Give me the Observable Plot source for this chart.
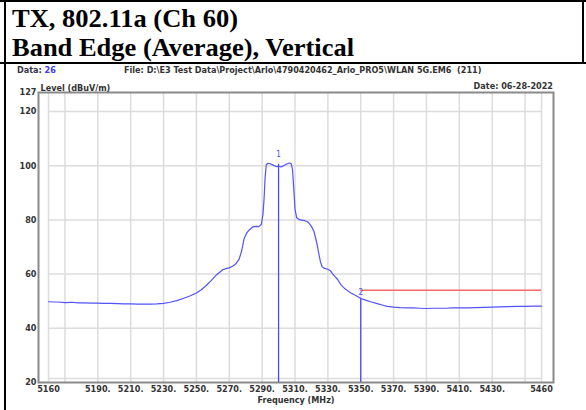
<!DOCTYPE html>
<html><head><meta charset="utf-8">
<script src="https://cdn.jsdelivr.net/npm/d3@7"></script>
<script src="https://cdn.jsdelivr.net/npm/@observablehq/plot@0.6"></script>
<style>
body{margin:0;width:586px;height:410px;position:relative;overflow:hidden;background:#fff;}
#title{position:absolute;left:0;top:0;}
#title text{font-family:"Liberation Serif","Times New Roman",serif;font-weight:bold;font-size:26px;fill:#000;}
.bl{position:absolute;background:#000;}
.hdr{position:absolute;font-family:"Liberation Sans Narrow","DejaVu Sans Condensed",sans-serif;font-size:9px;font-weight:bold;color:#333;white-space:pre;line-height:10px;}
#chart{position:absolute;left:0;top:63px;}
</style></head><body>
<svg id="title" width="586" height="62">
  <text x="12" y="27" textLength="226" lengthAdjust="spacingAndGlyphs">TX, 802.11a (Ch 60)</text>
  <text x="12" y="56" textLength="342" lengthAdjust="spacingAndGlyphs">Band Edge (Average), Vertical</text>
</svg>
<div class="bl" style="left:0;top:0;width:586px;height:2px"></div>
<div class="bl" style="left:4px;top:0;width:2px;height:410px"></div>
<div class="bl" style="left:582px;top:0;width:2px;height:64px"></div>
<div class="bl" style="left:0;top:62px;width:586px;height:2px"></div>
<div class="hdr" style="left:17px;top:65px"><span style="color:#334">Data: </span><span style="color:#3a3aff">26</span></div>
<div class="hdr" style="left:124px;top:65px">File: D:\E3 Test Data\Project\Arlo\4790420462_Arlo_PRO5\WLAN 5G.EM6  (211)</div>
<div class="hdr" id="date" style="right:33px;top:81px">Date: 06-28-2022</div>
<div id="chart"></div>
<script>
const freq = [5160,5163,5166,5170,5174,5178,5182,5186,5190,5194,5198,5202,5206,5210,5214,5218,5222,5226,5230,5234,5238,5242,5246,5250,5253,5256,5259,5262,5264,5266,5268,5270,5272,5274,5276,5277.5,5279,5280.5,5282,5284,5286,5288,5289.5,5290.5,5291.2,5291.8,5292.5,5293.5,5295,5297,5299,5300,5301.5,5303,5305,5306.5,5307.7,5308.5,5309.2,5310,5311,5313,5316,5318,5320,5321.5,5322.5,5323.5,5324.5,5325.5,5326.6,5328,5330,5331.6,5333,5334.5,5336,5338,5340,5342,5344,5347,5350,5353,5356,5360,5363,5366,5370,5374,5378,5382,5386,5390,5394,5398,5402,5406,5410,5415,5420,5425,5430,5435,5440,5445,5450,5455,5460];
const level = [49.8,49.7,49.7,49.5,49.6,49.4,49.4,49.3,49.3,49.2,49.2,49.1,49.0,49.0,48.9,48.9,48.9,49.0,49.2,49.6,50.2,51.0,51.9,53.0,54.2,55.8,57.6,59.6,60.6,61.6,62.0,62.3,62.9,63.8,65.5,68.5,73.0,75.0,76.2,77.3,77.6,77.5,78.3,82.0,88.0,95.5,100.3,100.9,100.7,100.1,99.6,99.8,99.5,100.0,100.6,101.0,100.7,98.5,92.0,84.0,80.8,80.0,79.7,79.2,77.6,75.8,73.4,70.8,67.5,64.5,62.6,62.1,61.8,61.2,60.0,59.0,58.0,56.0,54.8,53.9,53.0,52.1,51.0,50.4,49.8,49.1,48.6,48.1,47.8,47.6,47.5,47.5,47.4,47.3,47.4,47.4,47.4,47.5,47.5,47.5,47.6,47.7,47.8,47.9,48.0,48.1,48.1,48.2,48.2];
const limitStart = 5350, limitEnd = 5460, limitLevel = 54;
const markerFreq = [5300, 5350];
const markerLevel = [100.5, 51.0];
const markerLabel = ["1", "2"];
const markerLabelLevel = [104, 53.2];
const xTicks = [5160,5190,5210,5230,5250,5270,5290,5310,5330,5350,5370,5390,5410,5430,5460];
const xGrid = [5160,5170,5190,5210,5230,5250,5270,5290,5310,5330,5350,5370,5390,5410,5430,5450,5460];
const yTicks = [20,40,60,80,100,120,127];
const yGrid = [40,60,80,100,120];

const trace = freq.map((f,i)=>({f, v: level[i]}));
const markers = markerFreq.map((f,i)=>({f, v: markerLevel[i], t: markerLabel[i], lv: markerLabelLevel[i]}));
const font = '"Liberation Sans Narrow","DejaVu Sans Condensed",sans-serif';

const chart = Plot.plot({
  width: 586, height: 347,
  marginLeft: 38, marginRight: 33, marginTop: 29, marginBottom: 28,
  x: {domain: [5160, 5460], range: [48, 541]},
  y: {domain: [20, 127]},
  style: {fontFamily: font, fontSize: "9px", fontWeight: "bold", color: "#333", background: "transparent"},
  marks: [
    Plot.ruleX(xGrid, {stroke: "#dcdcdc", strokeWidth: 1.5}),
    Plot.ruleY(yGrid, {x1: 5160, x2: 5460, stroke: "#dcdcdc", strokeWidth: 1.5}),
    Plot.ruleY([21.5], {x1: 5160, x2: 5460, stroke: "#dcdcdc", strokeWidth: 1.5}),
    Plot.frame({stroke: "#8a8a8a", strokeWidth: 2}),
    Plot.ruleY([limitLevel], {x1: limitStart, x2: limitEnd, stroke: "#ff6b6b", strokeWidth: 1.5}),
    Plot.line(trace, {x: "f", y: "v", stroke: "#5252ff", strokeWidth: 1.2}),
    Plot.ruleX(markers, {x: "f", y1: 20, y2: "v", stroke: "#4a4aff", strokeWidth: 1.3}),
    Plot.text(markers, {x: "f", y: "lv", text: "t", fill: "#4a4aff", fontSize: 8, fontWeight: "normal"}),
    Plot.axisX({ticks: xTicks, tickSize: 0, tickPadding: 3, label: null,
      tickFormat: d => (d === 5160 || d === 5460) ? String(d) : d + "."}),
    Plot.axisY({ticks: yTicks, tickSize: 0, tickPadding: 2, label: null, tickFormat: d => String(d)}),
    Plot.text(["Level (dBuV/m)"], {frameAnchor: "top-left", dx: 2, dy: -8, textAnchor: "start", fill: "#333"}),
    Plot.text(["Frequency (MHz)"], {frameAnchor: "bottom", dy: 20, fill: "#333"})
  ]
});
document.getElementById("chart").appendChild(chart);
</script>
</body></html>
